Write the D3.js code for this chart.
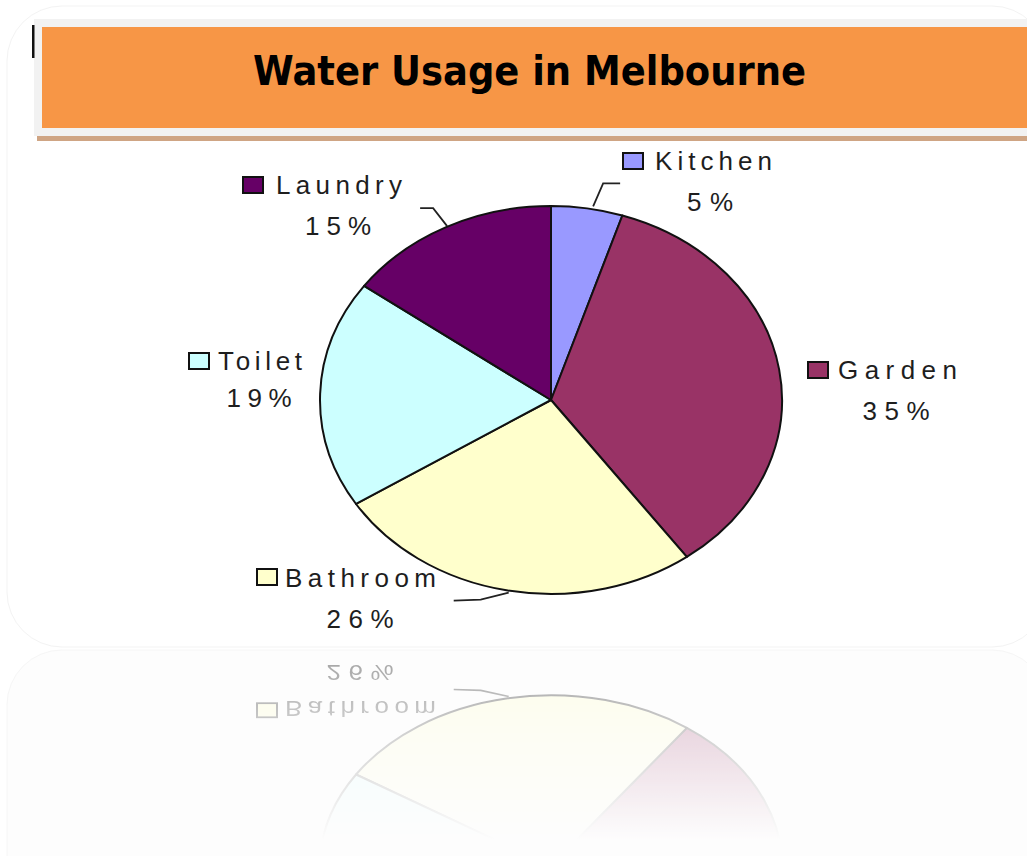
<!DOCTYPE html>
<html>
<head>
<meta charset="utf-8">
<script src="https://cdn.jsdelivr.net/npm/d3@7"></script>
<style>
  html, body { margin: 0; padding: 0; background: #ffffff; }
  svg { display: block; }
</style>
</head>
<body>
<script>
// Household water usage, share of total (%), clockwise from 12 o'clock
const categories = ["Kitchen", "Garden", "Bathroom", "Toilet", "Laundry"];
const shares = [5, 35, 26, 19, 15];
const sliceColors = ["#9999FF", "#993366", "#FFFFCC", "#CCFFFF", "#660066"];
const chartTitle = "Water Usage in Melbourne";

// Label placement: legend square + name on one line, percentage centred below
const labelLayout = {
  Kitchen:  { sq: [623, 153], name: [655, 170, 117], pct: [710, 211, 46], leader: [[6, -2], [16, -25], [33, -25]] },
  Garden:   { sq: [808, 362], name: [838, 379, 119], pct: [896, 420, 67], leader: null },
  Bathroom: { sq: [257, 569], name: [285, 587, 151], pct: [360, 628, 67], leader: [[1, 2], [-27, 9], [-54, 10]] },
  Toilet:   { sq: [189, 353], name: [218, 370, 84],  pct: [259, 407, 65], leader: null },
  Laundry:  { sq: [243, 177], name: [276, 194, 126], pct: [338, 235, 66], leader: [[1, -1], [-13, -19], [-26, -19]] }
};

const W = 1027, H = 856;
const cx = 551, cy = 400, rx = 231, ry = 194;

const svg = d3.select("body").append("svg")
  .attr("width", W).attr("height", H)
  .attr("viewBox", `0 0 ${W} ${H}`);

const defs = svg.append("defs");

// fading mask for the floor reflection
const grad = defs.append("linearGradient")
  .attr("id", "fadeGrad")
  .attr("gradientUnits", "userSpaceOnUse")
  .attr("x1", 0).attr("y1", 650).attr("x2", 0).attr("y2", 840);
grad.append("stop").attr("offset", 0).attr("stop-color", "#fff").attr("stop-opacity", 0.42);
grad.append("stop").attr("offset", 0.45).attr("stop-color", "#fff").attr("stop-opacity", 0.18);
grad.append("stop").attr("offset", 1).attr("stop-color", "#fff").attr("stop-opacity", 0);
defs.append("mask").attr("id", "fadeMask")
  .attr("maskUnits", "userSpaceOnUse")
  .attr("x", 0).attr("y", 648).attr("width", W).attr("height", H - 648)
  .append("rect").attr("x", 0).attr("y", 648).attr("width", W).attr("height", H - 648)
  .attr("fill", "url(#fadeGrad)");

// faint card outline and its reflected twin
svg.append("rect")
  .attr("x", 7).attr("y", 6).attr("width", 1040).attr("height", 641)
  .attr("rx", 55).attr("ry", 55)
  .attr("fill", "none").attr("stroke", "#f3f3f3").attr("stroke-width", 1);
svg.append("rect")
  .attr("x", 7).attr("y", 650).attr("width", 1040).attr("height", 400)
  .attr("rx", 55).attr("ry", 55)
  .attr("fill", "#fdfdfd").attr("stroke", "#f6f6f6").attr("stroke-width", 1);

// chart group (pie + labels), reused for the reflection
const chart = defs.append("g").attr("id", "pieChart");

const pie = d3.pie().sort(null).value(d => d.value);
const arcs = pie(categories.map((c, i) => ({ name: c, value: shares[i], color: sliceColors[i] })));

// elliptical pie: draw on a unit circle, stretched to rx × ry
const unit = d3.arc().innerRadius(0).outerRadius(1);
const pieG = chart.append("g")
  .attr("transform", `translate(${cx},${cy})`);
pieG.selectAll("path.slice")
  .data(arcs)
  .join("path")
  .attr("class", "slice")
  .attr("d", d => unit(d))
  .attr("transform", `scale(${rx},${ry})`)
  .attr("fill", d => d.data.color)
  .attr("stroke", "#111")
  .attr("stroke-width", 2)
  .attr("vector-effect", "non-scaling-stroke")
  .attr("stroke-linejoin", "round");

// point on the ellipse rim at a pie angle
const rim = a => [cx + rx * Math.sin(a), cy - ry * Math.cos(a)];

const labels = chart.append("g")
  .attr("font-family", "'Liberation Sans', Arial, sans-serif")
  .attr("font-size", 26)
  .attr("fill", "#1e1e1e");

arcs.forEach(d => {
  const L = labelLayout[d.data.name];
  const mid = (d.startAngle + d.endAngle) / 2;
  const [px, py] = rim(mid);

  if (L.leader) {
    const pts = L.leader.map(([dx, dy]) => [px + dx, py + dy]);
    labels.append("path")
      .attr("d", d3.line()(pts))
      .attr("fill", "none")
      .attr("stroke", "#222")
      .attr("stroke-width", 1.8);
  }

  labels.append("rect")
    .attr("x", L.sq[0]).attr("y", L.sq[1])
    .attr("width", 20).attr("height", 16)
    .attr("fill", d.data.color)
    .attr("stroke", "#111").attr("stroke-width", 2);

  labels.append("text")
    .attr("x", L.name[0]).attr("y", L.name[1])
    .attr("textLength", L.name[2])
    .attr("lengthAdjust", "spacing")
    .text(d.data.name);

  const pct = Math.round(100 * d.value / d3.sum(shares)) + "%";
  labels.append("text")
    .attr("x", L.pct[0] - L.pct[2] / 2).attr("y", L.pct[1])
    .attr("textLength", L.pct[2])
    .attr("lengthAdjust", "spacing")
    .text(pct);
});

// reflection below the card, squashed and fading out
svg.append("g")
  .attr("mask", "url(#fadeMask)")
  .append("use")
  .attr("href", "#pieChart")
  .attr("transform", "translate(0,1218) scale(1,-0.88)");

// main chart
svg.append("use").attr("href", "#pieChart");

// title banner
svg.append("rect")
  .attr("x", 37).attr("y", 135).attr("width", W).attr("height", 6)
  .attr("fill", "#CFA584");
svg.append("rect")
  .attr("x", 34).attr("y", 19).attr("width", W).attr("height", 117)
  .attr("fill", "#F2F2F2");
svg.append("rect")
  .attr("x", 42).attr("y", 27).attr("width", W).attr("height", 101)
  .attr("fill", "#F79646");
svg.append("rect")
  .attr("x", 32).attr("y", 25).attr("width", 2.5).attr("height", 33)
  .attr("fill", "#111");

svg.append("text")
  .attr("x", 253).attr("y", 85)
  .attr("font-family", "'Comic Sans MS', 'DejaVu Sans', sans-serif")
  .attr("font-weight", "bold")
  .attr("font-size", 40)
  .attr("textLength", 553)
  .attr("lengthAdjust", "spacingAndGlyphs")
  .attr("fill", "#000")
  .text(chartTitle);
</script>
</body>
</html>
